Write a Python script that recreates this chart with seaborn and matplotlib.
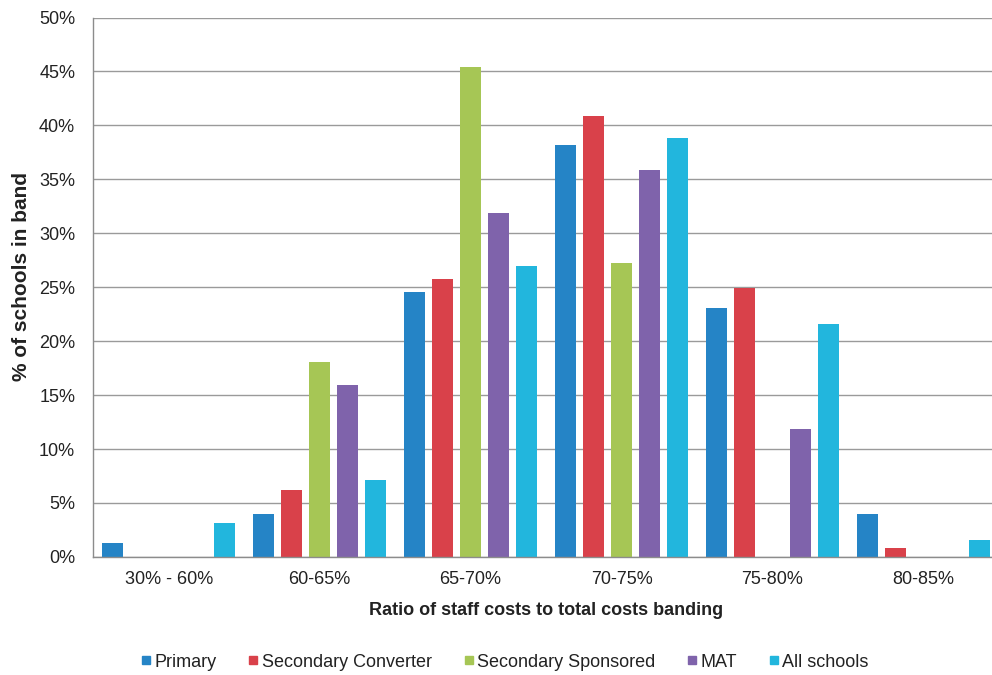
import matplotlib
matplotlib.use("Agg")
import matplotlib.pyplot as plt
from matplotlib.lines import Line2D
from matplotlib.ticker import FixedLocator, PercentFormatter
import pandas as pd
import seaborn as sns

bands = ["30% - 60%", "60-65%", "65-70%", "70-75%", "75-80%", "80-85%"]
series = ["Primary", "Secondary Converter", "Secondary Sponsored", "MAT", "All schools"]

primary = [1.3, 4.0, 24.6, 38.2, 23.1, 4.0]
secondary_converter = [0.0, 6.2, 25.8, 40.9, 24.9, 0.8]
secondary_sponsored = [0.0, 18.1, 45.4, 27.2, 0.0, 0.0]
mat = [0.0, 15.9, 31.9, 35.9, 11.9, 0.0]
all_schools = [3.1, 7.1, 27.0, 38.8, 21.6, 1.6]

colors = ["#2584c6", "#d9414a", "#a6c655", "#7f63ab", "#22b6dd"]

values = [primary, secondary_converter, secondary_sponsored, mat, all_schools]
df = pd.DataFrame(
    [(b, s, v) for s, vals in zip(series, values) for b, v in zip(bands, vals)],
    columns=["band", "series", "pct"],
)

sns.set_theme(style="white")
plt.rcParams["font.family"] = ["Liberation Sans", "DejaVu Sans"]

fig = plt.figure(figsize=(9.92, 6.75), dpi=100)
ax = fig.add_axes([0.094, 0.175, 0.913, 0.799])

sns.barplot(
    data=df, x="band", y="pct", hue="series", order=bands, hue_order=series,
    palette=colors, width=0.93, gap=0.26, saturation=1, linewidth=0,
    ax=ax, legend=False,
)

ax.set_xlim(-0.5, len(bands) - 0.5)
ax.set_ylim(0, 50)
ax.yaxis.set_major_locator(FixedLocator(range(0, 51, 5)))
ax.yaxis.set_major_formatter(PercentFormatter(decimals=0))
ax.grid(axis="y", color="#9a9a9a", linewidth=1.0)
ax.set_axisbelow(True)

for side in ["top", "right"]:
    ax.spines[side].set_visible(False)
for side in ["left", "bottom"]:
    ax.spines[side].set_color("#8c8c8c")
    ax.spines[side].set_linewidth(1.0)

# category separators as ticks on the x axis
ax.set_xticks(range(len(bands)))
ax.set_xticklabels(bands, fontsize=13, color="#222222")
ax.set_xticks([i - 0.5 for i in range(len(bands) + 1)], minor=True)
ax.tick_params(axis="x", which="major", length=0, pad=10)
ax.tick_params(axis="x", which="minor", length=5, color="#8c8c8c", direction="out")
ax.tick_params(axis="y", length=5, color="#8c8c8c", direction="out",
               labelsize=13, labelcolor="#222222", pad=8)

ax.set_xlabel("Ratio of staff costs to total costs banding", fontsize=13,
              fontweight="bold", color="#222222", labelpad=10)
ax.set_ylabel("% of schools in band", fontsize=15, fontweight="bold",
              color="#222222")
ax.yaxis.set_label_coords(-0.069, 0.52)

handles = [Line2D([], [], linestyle="none", marker="s", markersize=5.5,
                  markerfacecolor=c, markeredgecolor=c) for c in colors]
fig.legend(handles, series, loc="center", bbox_to_anchor=(0.509, 0.019),
           ncol=5, frameon=False, fontsize=13, handletextpad=0.2,
           columnspacing=1.8, handlelength=0.5, labelcolor="#222222")

fig.savefig("out.png", dpi=100)
